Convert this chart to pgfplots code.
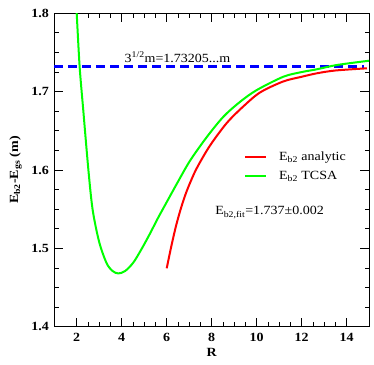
\documentclass[border=0pt]{standalone}
\usepackage{fontspec}
\setmainfont{Liberation Serif}[FakeStretch=1.12]
\usepackage{pgfplots}
\pgfplotsset{compat=1.18}

\begin{document}
\fontsize{12.5}{14}\selectfont
\begin{tikzpicture}
\useasboundingbox (-54.2pt,-37.3pt) rectangle (319.8pt,326.7pt);
\begin{axis}[
    at={(0,0)}, anchor=south west,
    scale only axis,
    width=315pt, height=313.4pt,
    xmin=1, xmax=15, ymin=1.4, ymax=1.8,
    xtick={2,4,6,8,10,12,14},
    ytick={1.4,1.5,1.6,1.7,1.8},
    minor x tick num=3, minor y tick num=3,
    tick align=inside,
    major tick length=9pt, minor tick length=4.5pt,
    tick style={black, line width=0.8pt},
    axis line style={line width=1.3pt},
    /pgf/number format/assume math mode=true,
    ticklabel style={font=\fontsize{12.5}{14}\selectfont\bfseries},
    yticklabel style={/pgf/number format/fixed, /pgf/number format/precision=1,
        /pgf/number format/fixed zerofill, xshift=-1pt},
    xticklabel style={yshift=-2pt},
    xlabel={\bfseries R},
    ylabel={\bfseries E\textsubscript{b2}-E\textsubscript{gs} (m)},
    xlabel style={yshift=2pt},
    ylabel style={yshift=1pt},
    legend style={draw=none, fill=none, at={(axis cs:9.43,1.626)}, anchor=north west,
        font=\fontsize{12.5}{14}\selectfont, row sep=4.5pt, inner sep=0pt},
    legend cell align=left,
    legend image code/.code={\draw[#1] (0pt,0pt) -- (21pt,0pt); \path (31pt,0pt);},
]
\addplot[blue, line width=2.2pt, dash pattern=on 9pt off 5pt, forget plot]
    coordinates {(1,1.732) (14.75,1.732)};

\addplot[red, line width=2pt, smooth, tension=0.5] coordinates {
    (6.0,1.4745) (6.2,1.502) (6.4,1.527) (6.6,1.548) (6.8,1.566)
    (7.0,1.581) (7.33,1.602) (7.92,1.631) (8.67,1.660) (9.4,1.681)
    (10.15,1.699) (11.18,1.713) (12.0,1.719) (12.67,1.7234) (13.5,1.727)
    (14.9,1.7298)
};
\addlegendentry{E\textsubscript{b2} analytic}

\addplot[green, line width=2pt, smooth, tension=0.5] coordinates {
    (1.98,1.812) (2.0,1.800) (2.13,1.732) (2.29,1.677) (2.52,1.600)
    (2.71,1.549) (3.0,1.508) (3.33,1.481) (3.6,1.471) (3.85,1.468)
    (4.15,1.471) (4.52,1.482) (4.9,1.500) (5.26,1.519) (5.6,1.538)
    (6.0,1.559) (6.5,1.585) (7.04,1.612) (7.78,1.642) (8.52,1.668)
    (9.26,1.687) (10.0,1.702) (11.18,1.719) (12.0,1.725) (12.67,1.7285)
    (13.56,1.734) (15.0,1.7395)
};
\addlegendentry{E\textsubscript{b2} TCSA}

\node[anchor=base, inner sep=0pt] at (axis cs:6.48,1.7378)
    {3\textsuperscript{1/2}m=1.73205...m};
\node[anchor=base west, inner sep=0pt] at (axis cs:8.15,1.5426)
    {E\textsubscript{b2,fit}=1.737±0.002};
\end{axis}
\end{tikzpicture}
\end{document}
